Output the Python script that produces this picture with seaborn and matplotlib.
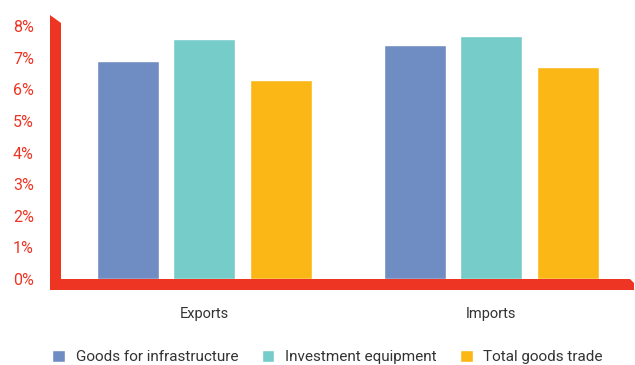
import pandas as pd
import matplotlib.pyplot as plt
import seaborn as sns

# 数据
flows = ['Exports', 'Imports']
series = ['Goods for infrastructure', 'Investment equipment', 'Total goods trade']
infra = [6.9, 7.4]
invest = [7.6, 7.7]
total = [6.3, 6.7]
yticks = [0, 1, 2, 3, 4, 5, 6, 7, 8]
ytick_labels = ['0%', '1%', '2%', '3%', '4%', '5%', '6%', '7%', '8%']

colors = ['#6f8dc2', '#76ccc9', '#fbb716']
red = '#ee3524'

df = pd.DataFrame({
    'flow': flows * 3,
    'series': [s for s in series for _ in flows],
    'value': infra + invest + total,
})

sns.set_style('white')
plt.rcParams['font.family'] = ['Roboto', 'DejaVu Sans']

fig = plt.figure(figsize=(6.35, 3.65), dpi=100)
W, H = 635, 365
ax = fig.add_axes([61 / W, 1 - 279 / H, (632 - 61) / W, (279 - 15) / H])

sns.barplot(data=df, x='flow', y='value', hue='series', palette=colors,
            width=0.8, gap=0.19, saturation=1, ax=ax, legend=True)

ax.set_xlim(-0.5, 1.49)
ax.set_ylim(0, 8.35)
for s in ax.spines.values():
    s.set_visible(False)

# 红色粗坐标轴
pts = [(50, 15), (61, 23), (61, 279), (630, 279), (634, 283), (634, 290), (50, 290)]
poly = plt.Polygon([(x / W, 1 - y / H) for x, y in pts], closed=True,
                   transform=fig.transFigure, color=red, lw=0, zorder=5)
fig.patches.append(poly)

ax.set_yticks(yticks)
ax.set_yticklabels(ytick_labels)
ax.tick_params(axis='y', direction='in', length=4.5, width=1, color='#f5a090',
               pad=19.5, labelcolor=red, labelsize=11.5)
ax.tick_params(axis='x', length=0, pad=20.5, labelsize=10.5, labelcolor='#333333')
ax.set_xticks([0.5], minor=True)
ax.tick_params(axis='x', which='minor', direction='in', length=5, width=1,
               color='#f08070')
ax.set_xlabel('')
ax.set_ylabel('')

# 图例
handles, labels = ax.get_legend_handles_labels()
ax.get_legend().remove()
fig.legend(handles, labels, loc='lower center', bbox_to_anchor=(0.516, -0.035),
           ncol=3, frameon=False, fontsize=11, handlelength=0.85,
           handleheight=0.85, handletextpad=0.7, columnspacing=1.5,
           labelcolor='#333333')

fig.savefig('out.png', dpi=100)
